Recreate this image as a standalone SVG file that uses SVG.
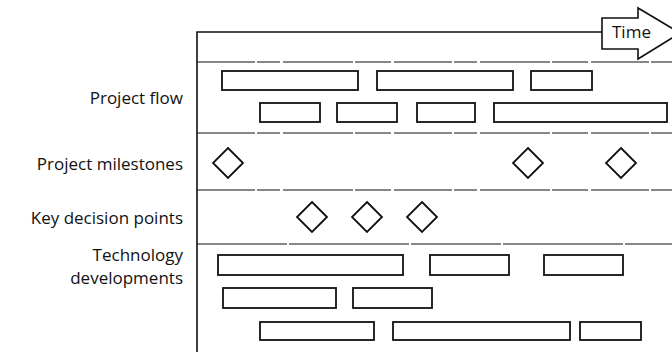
<svg xmlns="http://www.w3.org/2000/svg" width="672" height="352" viewBox="0 0 672 352">
<style>
.lbl{font-family:"Open Sans","Noto Sans","Liberation Sans",sans-serif;font-size:17px;fill:#111;text-anchor:end}
.bar{fill:none;stroke:#111;stroke-width:1.8}
.dia{fill:none;stroke:#111;stroke-width:1.8}
.sep{fill:none;stroke:#111;stroke-width:1.2;stroke-dasharray:58 2 23 3 70 2 36 3}
.frame{fill:none;stroke:#111;stroke-width:1.6}
</style>
<rect width="672" height="352" fill="#fff"/>
<g id="frame">
<path class="frame" d="M197,352 V32 H602"/>
<line class="sep" x1="197" y1="62" x2="672" y2="62"/>
<line class="sep" x1="197" y1="133" x2="672" y2="133"/>
<line class="sep" x1="197" y1="190" x2="672" y2="190"/>
<line class="sep" x1="197" y1="244" x2="672" y2="244" style="stroke-dasharray:90 2 120 2"/>
</g>
<g id="time-arrow">
<path class="frame" d="M602,18 H638 V8 L680,33 L638,59 V49 H602 Z"/>
<text x="612" y="38" class="lbl" style="text-anchor:start">Time</text>
</g>
<g id="labels">
<text id="lbl-flow" class="lbl" x="183" y="104">Project flow</text>
<text id="lbl-milestones" class="lbl" x="183" y="170">Project milestones</text>
<text id="lbl-decision" class="lbl" x="183" y="224">Key decision points</text>
<text id="lbl-tech" class="lbl" x="183" y="261">Technology<tspan x="183" y="284">developments</tspan></text>
</g>
<g id="project-flow">
<rect id="pf1" class="bar" x="222" y="71" width="136" height="19"/>
<rect id="pf2" class="bar" x="377" y="71" width="136" height="19"/>
<rect id="pf3" class="bar" x="531" y="71" width="61" height="19"/>
<rect id="pf4" class="bar" x="260" y="103" width="60" height="19"/>
<rect id="pf5" class="bar" x="337" y="103" width="60" height="19"/>
<rect id="pf6" class="bar" x="417" y="103" width="58" height="19"/>
<rect id="pf7" class="bar" x="494" y="103" width="173" height="19"/>
</g>
<g id="milestones">
<path id="ms1" class="dia" d="M228,148 L243,163 L228,178 L213,163 Z"/>
<path id="ms2" class="dia" d="M528,148 L543,163 L528,178 L513,163 Z"/>
<path id="ms3" class="dia" d="M621,148 L636,163 L621,178 L606,163 Z"/>
</g>
<g id="decision-points">
<path id="dp1" class="dia" d="M312,202 L327,217 L312,232 L297,217 Z"/>
<path id="dp2" class="dia" d="M367,202 L382,217 L367,232 L352,217 Z"/>
<path id="dp3" class="dia" d="M422,202 L437,217 L422,232 L407,217 Z"/>
</g>
<g id="technology">
<rect id="td1" class="bar" x="218" y="255" width="185" height="20"/>
<rect id="td2" class="bar" x="430" y="255" width="79" height="20"/>
<rect id="td3" class="bar" x="544" y="255" width="79" height="20"/>
<rect id="td4" class="bar" x="223" y="288" width="113" height="20"/>
<rect id="td5" class="bar" x="353" y="288" width="79" height="20"/>
<rect id="td6" class="bar" x="260" y="322" width="114" height="18"/>
<rect id="td7" class="bar" x="393" y="322" width="177" height="18"/>
<rect id="td8" class="bar" x="580" y="322" width="61" height="18"/>
</g>
</svg>
